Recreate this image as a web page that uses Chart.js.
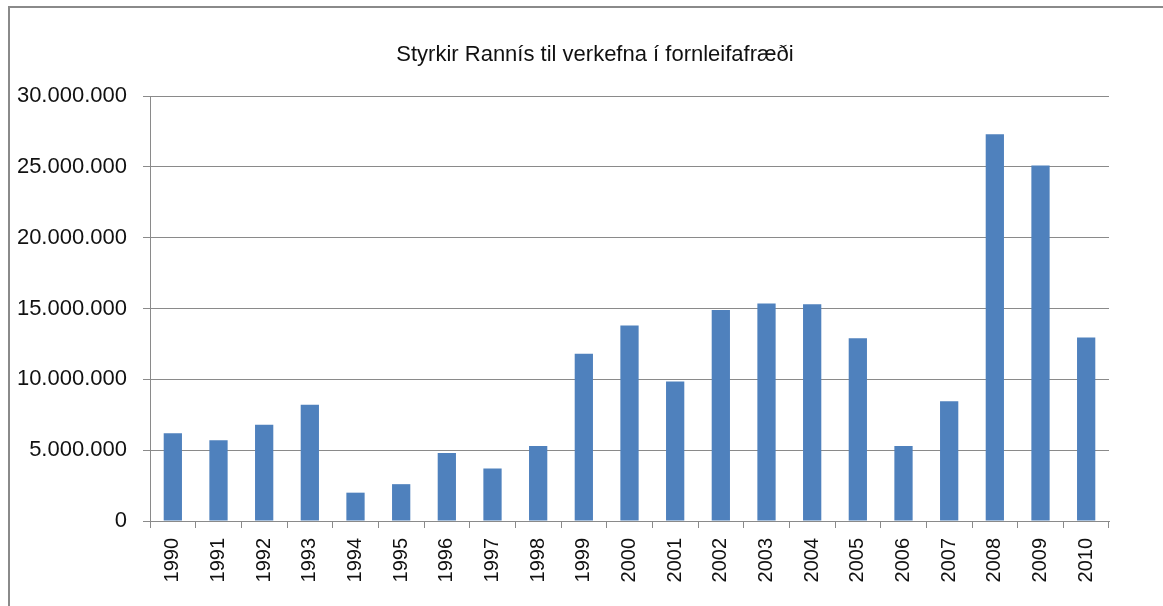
<!DOCTYPE html>
<html>
<head>
<meta charset="utf-8">
<script src="https://cdn.jsdelivr.net/npm/chart.js@4"></script>
<style>
  body { margin: 0; background: #fff; }
  #frame { position: absolute; left: 8px; top: 6px; width: 1153px; height: 620px;
           border-left: 2px solid #8a8a8a; border-top: 2px solid #8a8a8a; border-right: 2px solid #8a8a8a; }
  #wrap { position: absolute; left: 0; top: 0; width: 1163px; height: 606px; }
</style>
</head>
<body>
<div id="frame"></div>
<div id="wrap"><canvas id="styrkir"></canvas></div>
<script>
const years = ["1990", "1991", "1992", "1993", "1994", "1995", "1996", "1997", "1998", "1999", "2000",
               "2001", "2002", "2003", "2004", "2005", "2006", "2007", "2008", "2009", "2010"];
const grants = [6200000, 5700000, 6800000, 8200000, 2000000, 2600000, 4800000, 3700000, 5300000, 11800000, 13800000,
                9850000, 14900000, 15350000, 15300000, 12900000, 5300000, 8450000, 27300000, 25100000, 12950000];
const chartTitle = "Styrkir Rannís til verkefna í fornleifafræði";

// 30000000 -> 30.000.000
const dotted = (v) => String(v).replace(/\B(?=(\d{3})+(?!\d))/g, ".");

const ctx = document.getElementById("styrkir").getContext("2d");
const chart = new Chart(ctx, {
    type: "bar",
    data: {
        labels: years,
        datasets: [{
            label: "Styrkir",
            data: grants,
            backgroundColor: "#4f81bd",
            borderWidth: 0,
            barPercentage: 0.4,
            categoryPercentage: 1,
        }],
    },
    options: {
        responsive: true,
        maintainAspectRatio: false,
        animation: false,
        layout: {
            // negative right padding pushes the title centre to the right like the original
            padding: { left: 0, right: -27, top: 0, bottom: 0 },
        },
        scales: {
            x: {
                grid: {
                    offset: true,
                    drawOnChartArea: false,
                    drawTicks: true,
                    tickLength: 7,
                    color: "#8a8a8a",
                },
                border: { display: true, color: "#8a8a8a" },
                ticks: {
                    minRotation: 90,
                    maxRotation: 90,
                    autoSkip: false,
                    padding: 10,
                    color: "#111",
                    font: { family: "Liberation Sans", size: 20 },
                },
                afterFit: (scale) => { scale.height = 85; },
            },
            y: {
                min: 0,
                max: 30000000,
                grid: {
                    color: "#8a8a8a",
                    tickLength: 7,
                },
                border: { display: true, color: "#8a8a8a" },
                ticks: {
                    stepSize: 5000000,
                    padding: 16,
                    color: "#111",
                    font: { family: "Liberation Sans", size: 22 },
                    callback: (v) => dotted(v),
                },
                afterFit: (scale) => { scale.width = 150; },
            },
            // empty right-hand spacer
            spacer: {
                position: "right",
                min: 0,
                max: 30000000,
                grid: { display: false },
                border: { display: false },
                ticks: { display: false },
                afterFit: (scale) => { scale.width = 81; },
            },
        },
        plugins: {
            legend: { display: false },
            tooltip: { enabled: false },
            title: {
                display: true,
                text: chartTitle,
                color: "#111",
                font: { family: "Liberation Sans", size: 22, weight: "normal" },
                padding: { top: 42, bottom: 27.6 },
            },
        },
    },
});
</script>
</body>
</html>
